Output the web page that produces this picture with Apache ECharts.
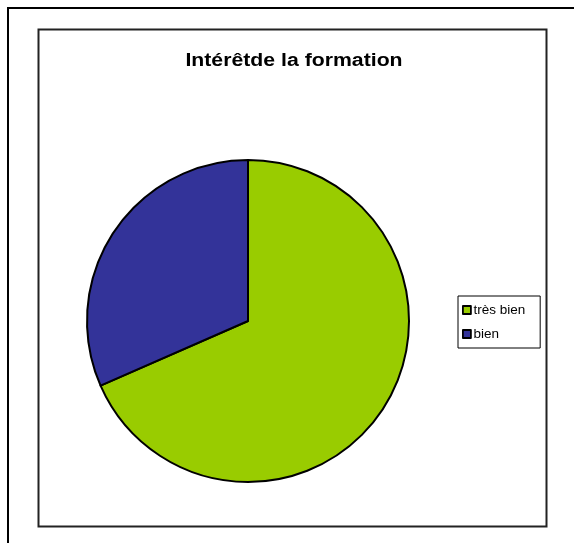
<!DOCTYPE html>
<html>
<head>
<meta charset="utf-8">
<script src="https://cdn.jsdelivr.net/npm/echarts@6/dist/echarts.min.js"></script>
<style>
html,body{margin:0;padding:0;background:#fff;}
#chart{width:574px;height:543px;}
</style>
</head>
<body>
<div id="chart"></div>
<script>
// données du graphique
const titre = 'Intérêtde la formation';
const categories = ['très bien', 'bien'];
const values = [13, 6];
const colors = ['#99CC00', '#333399'];

const chart = echarts.init(document.getElementById('chart'));
const option = {
  backgroundColor: '#fff',
  animation: false,
  legend: {
    orient: 'vertical',
    left: 458, top: 296,
    padding: [7, 15, 7, 4],
    itemGap: 10,
    itemWidth: 8, itemHeight: 8,
    icon: 'rect',
    borderColor: '#000', borderWidth: 1,
    itemStyle: {borderColor: '#000', borderWidth: 1.8},
    textStyle: {fontFamily: 'Liberation Sans, Arial', fontSize: 13.5, color: '#000', padding: [0, 0, 0, -2.5]},
    data: categories
  },
  graphic: [
    {type: 'rect', shape: {x: 8, y: 8, width: 600, height: 600}, style: {fill: 'none', stroke: '#000', lineWidth: 2}, silent: true},
    {type: 'rect', shape: {x: 38.5, y: 29.5, width: 508, height: 497}, style: {fill: 'none', stroke: '#222', lineWidth: 2}, silent: true},
    {type: 'text', x: 294, y: 61, scaleX: 1.18, silent: true,
     style: {text: titre, x: 0, y: 0, align: 'center', verticalAlign: 'middle',
             font: 'bold 18px "Liberation Sans", Arial', fill: '#000'}}
  ],
  series: [{
    type: 'pie',
    center: [248, 321],
    radius: 161,
    startAngle: 90,
    clockwise: true,
    label: {show: false},
    labelLine: {show: false},
    emphasis: {disabled: true},
    itemStyle: {borderColor: '#000', borderWidth: 2},
    data: categories.map((c, i) => ({name: c, value: values[i], itemStyle: {color: colors[i]}}))
  }]
};
chart.setOption(option);
</script>
</body>
</html>
